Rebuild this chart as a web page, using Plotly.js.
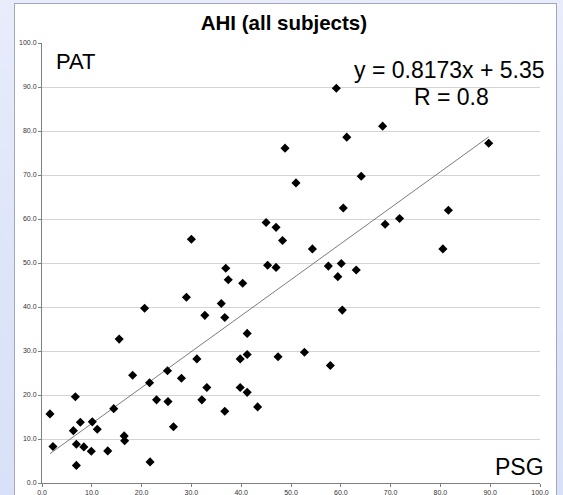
<!DOCTYPE html>
<html>
<head>
<meta charset="utf-8">
<script src="https://cdn.plot.ly/plotly-3.0.1.min.js"></script>
<style>
  html, body { margin: 0; padding: 0; }
  body {
    width: 563px; height: 495px; overflow: hidden;
    background: linear-gradient(180deg, #e8ecfb 0%, #dde4f8 60%, #d9e1f8 100%);
    position: relative;
  }
  #frame {
    position: absolute; left: 14px; top: 3px;
    width: 541px; height: 492px;
    border: 1px solid #a3a8b8; border-bottom: none;
    background: #ffffff;
  }
  #chart { width: 541px; height: 491px; }
</style>
</head>
<body>
<div id="frame"><div id="chart"></div></div>
<script>
// PSG (x) vs PAT (y) AHI values
const psg = [1.6, 2.2, 6.3, 6.7, 6.9, 6.9, 7.7, 8.4, 9.9, 10.1,
             11.1, 13.2, 14.4, 15.5, 16.5, 16.6, 18.2, 20.6, 21.6, 21.7,
             23.0, 25.2, 25.3, 26.4, 28.0, 29.0, 30.0, 31.1, 32.1, 32.7,
             33.1, 36.0, 36.7, 36.7, 36.9, 37.4, 39.8, 39.8, 40.3, 41.2,
             41.2, 41.2, 43.3, 45.0, 45.3, 47.0, 47.0, 47.4, 48.3, 48.8,
             51.0, 52.7, 54.3, 57.5, 57.9, 59.1, 59.4, 60.1, 60.3, 60.5,
             61.2, 63.1, 64.1, 68.4, 68.9, 71.8, 80.5, 81.6, 89.7];
const pat = [15.7, 8.3, 11.9, 19.6, 8.8, 4.0, 13.8, 8.2, 7.2, 13.9,
             12.2, 7.3, 16.9, 32.7, 10.7, 9.6, 24.5, 39.7, 22.8, 4.8,
             18.9, 25.5, 18.5, 12.8, 23.8, 42.2, 55.4, 28.2, 18.9, 38.1,
             21.7, 40.8, 37.6, 16.3, 48.8, 46.2, 28.2, 21.7, 45.4, 34.0,
             29.2, 20.6, 17.3, 59.2, 49.5, 58.1, 49.0, 28.7, 55.1, 76.1,
             68.2, 29.7, 53.2, 49.3, 26.7, 89.7, 46.9, 49.9, 39.3, 62.5,
             78.6, 48.4, 69.7, 81.1, 58.8, 60.1, 53.2, 62.0, 77.2];

// Linear trendline as reported on the chart
const slope = 0.8173;
const intercept = 5.35;
const eqText = 'y = 0.8173x + 5.35';
const rText = 'R = 0.8';

const chartTitle = 'AHI (all subjects)';
const yLabel = 'PAT';
const xLabel = 'PSG';
const tickVals = [0, 10, 20, 30, 40, 50, 60, 70, 80, 90, 100];

const xMin = Math.min(...psg), xMax = Math.max(...psg);
const trendX = [xMin, xMax];
const trendY = trendX.map(v => slope * v + intercept);

const FONT = 'Arial, "Liberation Sans", sans-serif';

const traces = [
  {
    x: trendX, y: trendY, type: 'scatter', mode: 'lines',
    line: { color: '#5a5a5a', width: 0.8 },
    hoverinfo: 'skip', showlegend: false
  },
  {
    x: psg, y: pat, type: 'scatter', mode: 'markers',
    marker: { symbol: 'diamond', size: 7, color: '#000000',
              line: { width: 0 } },
    showlegend: false
  }
];

const axisCommon = {
  range: [0, 100], autorange: false,
  tickvals: tickVals, tickformat: '.1f',
  showline: true, linecolor: '#808080', linewidth: 1,
  ticks: 'outside', ticklen: 3, tickcolor: '#808080', tickwidth: 1,
  zeroline: false,
  tickfont: { family: FONT, size: 7, color: '#333333' },
  fixedrange: true
};

const layout = {
  width: 541, height: 491,
  margin: { l: 27, r: 16, t: 39, b: 12, pad: 0 },
  paper_bgcolor: '#ffffff', plot_bgcolor: '#ffffff',
  font: { family: FONT },
  title: {
    text: '<b>' + chartTitle + '</b>',
    font: { family: FONT, size: 20.5, color: '#000000' },
    xref: 'container', yref: 'container',
    x: 0.497, xanchor: 'center', y: 0.961, yanchor: 'middle'
  },
  xaxis: Object.assign({}, axisCommon, { showgrid: false }),
  yaxis: Object.assign({}, axisCommon, {
    showgrid: true, gridcolor: '#d4d4d4', gridwidth: 1
  }),
  annotations: [
    { text: yLabel, x: 2.4, y: 95.9, xref: 'x', yref: 'y',
      xanchor: 'left', yanchor: 'middle', showarrow: false,
      font: { family: FONT, size: 22, color: '#000000' } },
    { text: xLabel, x: 95.8, y: 3.7, xref: 'x', yref: 'y',
      xanchor: 'center', yanchor: 'middle', showarrow: false,
      font: { family: FONT, size: 23, color: '#000000' } },
    { text: eqText, x: 81.9, y: 93.9, xref: 'x', yref: 'y',
      xanchor: 'center', yanchor: 'middle', showarrow: false,
      font: { family: FONT, size: 23, color: '#000000' } },
    { text: rText, x: 82.3, y: 87.7, xref: 'x', yref: 'y',
      xanchor: 'center', yanchor: 'middle', showarrow: false,
      font: { family: FONT, size: 23, color: '#000000' } }
  ],
  showlegend: false
};

Plotly.newPlot('chart', traces, layout, { displayModeBar: false, staticPlot: true });
</script>
</body>
</html>
